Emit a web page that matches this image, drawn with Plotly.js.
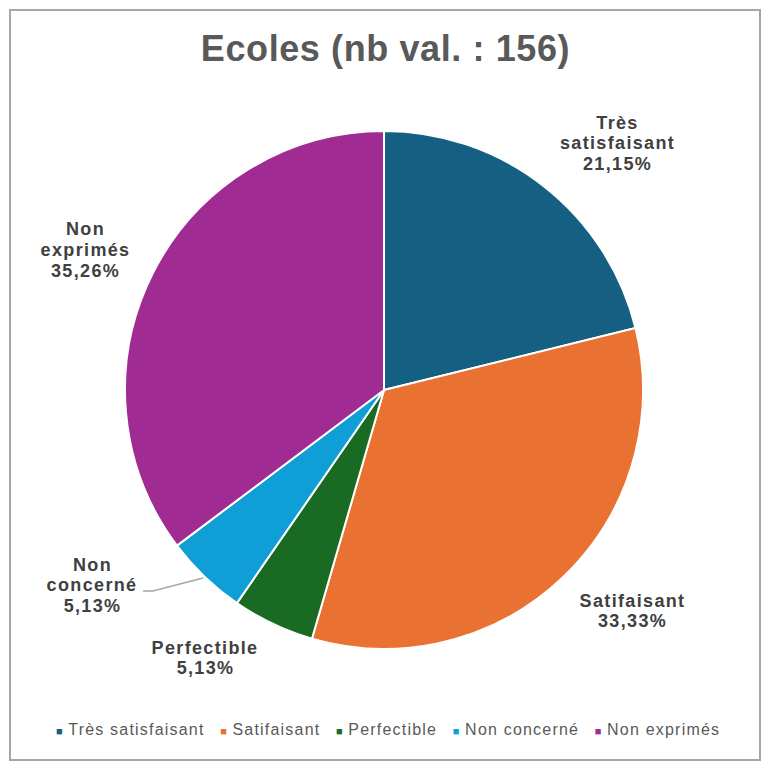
<!DOCTYPE html>
<html>
<head>
<meta charset="utf-8">
<script src="https://cdn.plot.ly/plotly-3.0.1.min.js"></script>
<style>
html, body { margin: 0; padding: 0; background: #ffffff; }
#chart { width: 771px; height: 777px; }
#chart text { letter-spacing: 0.075em; }
#chart text.gtitle { letter-spacing: 0.6px; }
</style>
</head>
<body>
<div id="chart"></div>
<script>
// ---- Data ----
const categories = ['Très satisfaisant', 'Satifaisant', 'Perfectible', 'Non concerné', 'Non exprimés'];
const sliceLabelLines = [['Très', 'satisfaisant'], ['Satifaisant'], ['Perfectible'], ['Non', 'concerné'], ['Non', 'exprimés']];
const counts = [33, 52, 8, 8, 55];
const colors = ['#156082', '#E97132', '#196B24', '#0F9ED5', '#A02B93'];
const chartTitle = 'Ecoles (nb val. : 156)';

// ---- Layout helpers (pixel -> paper) ----
const W = 771, H = 777;
const px = x => x / W;
const py = y => 1 - y / H;

const total = counts.reduce((a, b) => a + b, 0);
const pctText = counts.map(v => (v / total * 100).toFixed(2).replace('.', ',') + '%');

// label anchor positions (pixel centers)
const labelPos = [[617, 143], [632, 611], [205, 658], [92, 585], [85, 250]];
const lineStep = 20.5;

const annotations = [];
categories.forEach((c, k) => {
  const lines = sliceLabelLines[k].concat([pctText[k]]);
  const n = lines.length;
  lines.forEach((t, i) => {
    annotations.push({
      text: t, xref: 'paper', yref: 'paper',
      x: px(labelPos[k][0]), y: py(labelPos[k][1]),
      xanchor: 'center', yanchor: 'middle',
      yshift: -(i - (n - 1) / 2) * lineStep,
      showarrow: false,
      font: { family: 'Liberation Sans, Arial, sans-serif', size: 18, weight: 'bold', color: '#404040' }
    });
  });
});

// legend as a single centered line
const legendText = categories.map((c, k) =>
  '<span style="color:' + colors[k] + ';font-size:11px">■</span>\u2009' + c
).join('\u00a0\u00a0\u2009');
annotations.push({
  text: legendText, xref: 'paper', yref: 'paper',
  x: px(388), y: py(729), xanchor: 'center', yanchor: 'middle', showarrow: false,
  font: { family: 'Liberation Sans, Arial, sans-serif', size: 16, color: '#595959' }
});

const data = [{
  type: 'pie',
  labels: categories,
  values: counts,
  sort: false,
  direction: 'clockwise',
  rotation: 0,
  textinfo: 'none',
  hoverinfo: 'label+percent',
  marker: { colors: colors, line: { color: '#ffffff', width: 2 } },
  domain: { x: [px(125), px(643)], y: [py(649), py(131)] },
  showlegend: false
}];

const layout = {
  width: W, height: H,
  margin: { l: 0, r: 0, t: 0, b: 0 },
  paper_bgcolor: '#ffffff',
  showlegend: false,
  title: {
    text: chartTitle, x: 0.5, xanchor: 'center', y: py(48), yanchor: 'middle',
    font: { family: 'Liberation Sans, Arial, sans-serif', size: 36, weight: 'bold', color: '#595959' }
  },
  annotations: annotations,
  shapes: [
    { type: 'rect', xref: 'paper', yref: 'paper', x0: px(10), x1: px(760), y0: py(760), y1: py(10),
      line: { color: '#a6a6a6', width: 2 }, fillcolor: 'rgba(0,0,0,0)' },
    { type: 'path', xref: 'paper', yref: 'paper',
      path: 'M ' + px(143) + ',' + py(591) + ' L ' + px(153) + ',' + py(591) + ' L ' + px(203) + ',' + py(578),
      line: { color: '#a6a6a6', width: 1.5 } }
  ]
};

Plotly.newPlot('chart', data, layout, { staticPlot: true, displayModeBar: false });
</script>
</body>
</html>
